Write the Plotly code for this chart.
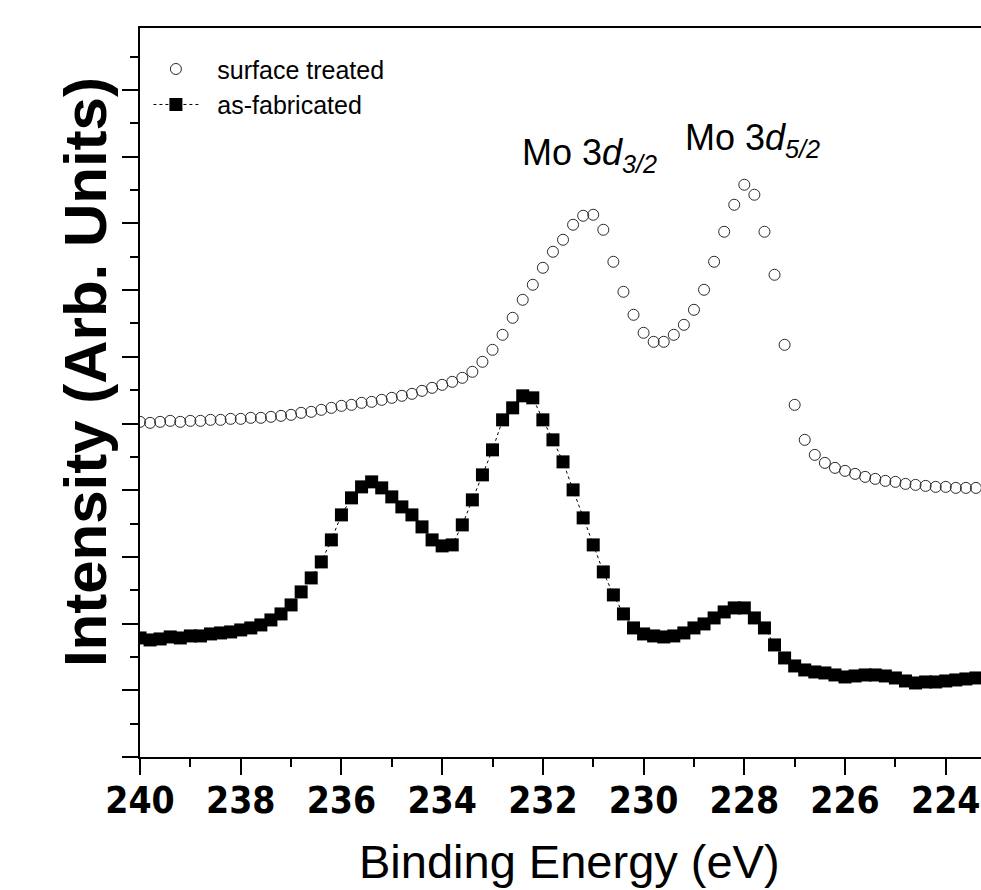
import plotly.graph_objects as go

# Binding energy grid (eV), 0.2 eV steps
energy = [round(240.0 - 0.2 * i, 1) for i in range(84)]

as_fabricated = [
    3.81, 3.75, 3.78, 3.84, 3.81, 3.87, 3.87, 3.93, 3.96, 3.99,
    4.05, 4.11, 4.20, 4.35, 4.53, 4.80, 5.19, 5.61, 6.09, 6.75,
    7.50, 8.01, 8.34, 8.49, 8.31, 8.04, 7.74, 7.50, 7.14, 6.75,
    6.57, 6.60, 7.20, 7.95, 8.70, 9.45, 10.35, 10.71, 11.07, 11.01,
    10.35, 9.75, 9.09, 8.25, 7.41, 6.60, 5.79, 5.10, 4.53, 4.11,
    3.93, 3.87, 3.84, 3.87, 3.96, 4.11, 4.23, 4.41, 4.59, 4.71,
    4.71, 4.41, 4.11, 3.60, 3.21, 2.97, 2.85, 2.79, 2.76, 2.70,
    2.64, 2.67, 2.70, 2.70, 2.67, 2.61, 2.52, 2.46, 2.49, 2.49,
    2.52, 2.55, 2.58, 2.61,
]

surface_treated = [
    10.29, 10.26, 10.29, 10.32, 10.29, 10.32, 10.32, 10.35, 10.35, 10.38,
    10.38, 10.41, 10.41, 10.44, 10.47, 10.50, 10.56, 10.59, 10.65, 10.71,
    10.77, 10.80, 10.86, 10.89, 10.95, 11.01, 11.07, 11.13, 11.22, 11.31,
    11.40, 11.49, 11.61, 11.79, 12.09, 12.45, 12.90, 13.41, 13.95, 14.40,
    14.91, 15.39, 15.75, 16.20, 16.47, 16.50, 16.05, 15.09, 14.19, 13.50,
    12.96, 12.69, 12.69, 12.90, 13.20, 13.65, 14.25, 15.09, 15.99, 16.80,
    17.40, 17.10, 15.99, 14.70, 12.60, 10.80, 9.75, 9.30, 9.06, 8.91,
    8.82, 8.73, 8.64, 8.58, 8.52, 8.49, 8.43, 8.40, 8.37, 8.34,
    8.34, 8.31, 8.31, 8.31,
]

x_ticks = [240, 238, 236, 234, 232, 230, 228, 226, 224]
x_ticklabels = ["240", "238", "236", "234", "232", "230", "228", "226", "224"]

series_names = ["surface treated", "as-fabricated"]
peak_labels = ["Mo 3<i>d</i><sub><i>3/2</i></sub>", "Mo 3<i>d</i><sub><i>5/2</i></sub>"]
peak_label_x = [232.45, 229.22]
peak_label_y = [18.3, 18.75]

x_title = "Binding Energy (eV)"
y_title = "<b>Intensity (Arb. Units)</b>"

Y0 = 0.24
y_major = [Y0 + 2 * k for k in range(12)]

NB = "\u00a0\u00a0"

fig = go.Figure()
fig.add_trace(go.Scatter(
    x=energy, y=surface_treated, name=NB + series_names[0], mode="markers",
    marker=dict(symbol="circle-open", size=11, color="#2a2a2a",
                line=dict(width=1, color="#2a2a2a")),
))
fig.add_trace(go.Scatter(
    x=energy, y=as_fabricated, name=NB + series_names[1], mode="lines+markers",
    line=dict(color="black", width=1, dash="dot"),
    marker=dict(symbol="square", size=13, color="black"),
))

for txt, xx, yy in zip(peak_labels, peak_label_x, peak_label_y):
    fig.add_annotation(x=xx, y=yy, xref="x", yref="y", text=txt, showarrow=False,
                       xanchor="left", yanchor="middle",
                       font=dict(family="Liberation Sans, Arial", size=36, color="black"))

# axis titles placed as annotations (paper coords relative to plot area)
fig.add_annotation(x=0.511, y=-0.144, xref="paper", yref="paper",
                   text=x_title, showarrow=False, xanchor="center", yanchor="middle",
                   font=dict(family="Liberation Sans, Arial", size=47, color="black"))
fig.add_annotation(x=-0.0654, y=0.528, xref="paper", yref="paper",
                   text=y_title, showarrow=False, xanchor="center", yanchor="middle",
                   textangle=-90,
                   font=dict(family="Liberation Sans, Arial", size=60, color="black"))

fig.update_layout(
    width=981, height=890,
    margin=dict(l=140, r=0, t=28, b=133),
    paper_bgcolor="white", plot_bgcolor="white",
    font=dict(family="Liberation Sans, Arial", color="black"),
    showlegend=True,
    legend=dict(x=0.01, y=0.975, xanchor="left", yanchor="top",
                bgcolor="rgba(0,0,0,0)", itemwidth=45,
                font=dict(family="Liberation Sans, Arial", size=25, color="black"),
                tracegroupgap=0, itemsizing="trace"),
    xaxis=dict(
        range=[240, 223.3], showgrid=False, zeroline=False, automargin=False,
        showline=True, linecolor="black", linewidth=2, mirror=True,
        ticks="outside", ticklen=16, tickwidth=1.5, tickcolor="black",
        tickvals=x_ticks, ticktext=x_ticklabels, ticklabelstandoff=-6,
        ticklabeloverflow="allow",
        tickfont=dict(family="DejaVu Sans Condensed, Liberation Sans", size=37,
                      color="black", weight="bold"),
        minor=dict(dtick=1, tick0=240, ticks="outside", ticklen=8, tickwidth=1.5, tickcolor="black"),
    ),
    yaxis=dict(
        range=[Y0, 22.1], showgrid=False, zeroline=False, automargin=False,
        showline=True, linecolor="black", linewidth=2, mirror=False,
        ticks="outside", ticklen=16, tickwidth=1.5, tickcolor="black",
        tickvals=y_major, showticklabels=False,
        minor=dict(dtick=1, tick0=Y0, ticks="outside", ticklen=8, tickwidth=1.5, tickcolor="black"),
    ),
)

fig.write_html(
    "out.html",
    config={"displayModeBar": False},
    post_script="document.body.style.margin='0';"
                "document.documentElement.style.overflow='hidden';"
                "document.body.style.overflow='hidden';",
)
